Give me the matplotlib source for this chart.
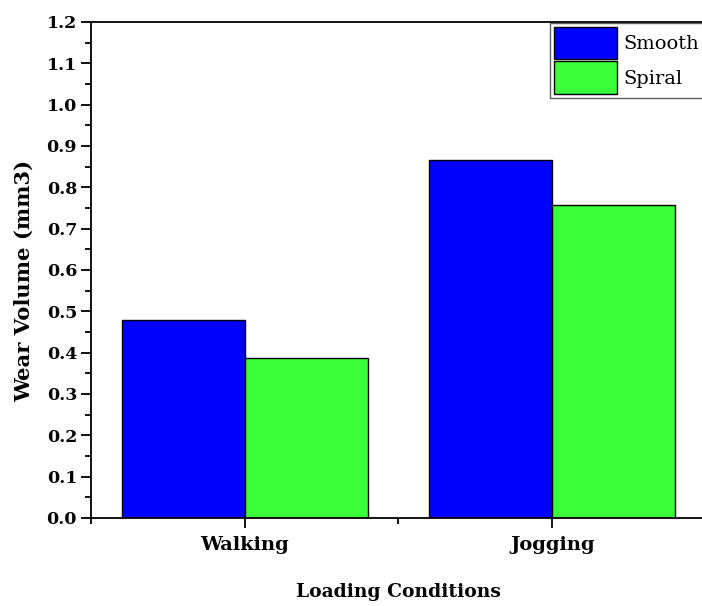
import numpy as np
import matplotlib
matplotlib.use('Agg')
import matplotlib.pyplot as plt
from matplotlib.ticker import MultipleLocator, FixedLocator

# Data
conditions = ['Walking', 'Jogging']
smooth = [0.48, 0.867]
spiral = [0.388, 0.757]
series_names = ['Smooth', 'Spiral']
series_colors = ['#0000FF', '#3AFF3A']

plt.rcParams['font.family'] = ['DejaVu Serif']

fig = plt.figure(figsize=(7.02, 6.06), dpi=100)
W, H = 702, 606
# axes extends slightly past the right edge, as in the cropped original
ax = fig.add_axes([91 / W, 1 - 518 / H, (706 - 91) / W, (518 - 22) / H])

x = np.arange(1, len(conditions) + 1)
width = 0.4
ax.bar(x - width / 2, smooth, width, color=series_colors[0], edgecolor='black',
       linewidth=1.0, label=series_names[0])
ax.bar(x + width / 2, spiral, width, color=series_colors[1], edgecolor='black',
       linewidth=1.0, label=series_names[1])

ax.set_xlim(0.5, 2.5)
ax.set_ylim(0, 1.2)

ax.set_xticks(x)
ax.set_xticklabels(conditions, fontsize=14, fontweight='bold')
ax.xaxis.set_minor_locator(FixedLocator([0.5, 1.5, 2.5]))
ax.yaxis.set_major_locator(MultipleLocator(0.1))
ax.yaxis.set_minor_locator(MultipleLocator(0.05))
ax.set_yticklabels([f'{v:.1f}' for v in ax.get_yticks()], fontsize=12.5, fontweight='bold')

ax.tick_params(axis='both', which='major', direction='out', length=7, width=1.3, pad=3)
ax.tick_params(axis='x', which='major', pad=6)
ax.tick_params(axis='both', which='minor', direction='out', length=4, width=1.3)
ax.tick_params(top=False, right=False)
for s in ax.spines.values():
    s.set_linewidth(1.3)

ax.set_xlabel('Loading Conditions', fontsize=13.5, fontweight='bold', labelpad=21)
ax.set_ylabel('Wear Volume (mm3)', fontsize=15.2, fontweight='bold')
ax.yaxis.set_label_coords(-0.093, 0.478)

leg = ax.legend(loc='upper left', bbox_to_anchor=(550 / W, 1 - 23 / H),
                bbox_transform=fig.transFigure, fontsize=14, frameon=True,
                fancybox=False, handlelength=3.25, handleheight=2.2,
                labelspacing=0.1, borderpad=0.2, handletextpad=0.3,
                borderaxespad=0)
leg.get_frame().set_edgecolor('#333333')
leg.get_frame().set_linewidth(1.0)

fig.savefig('out.png', dpi=100)
